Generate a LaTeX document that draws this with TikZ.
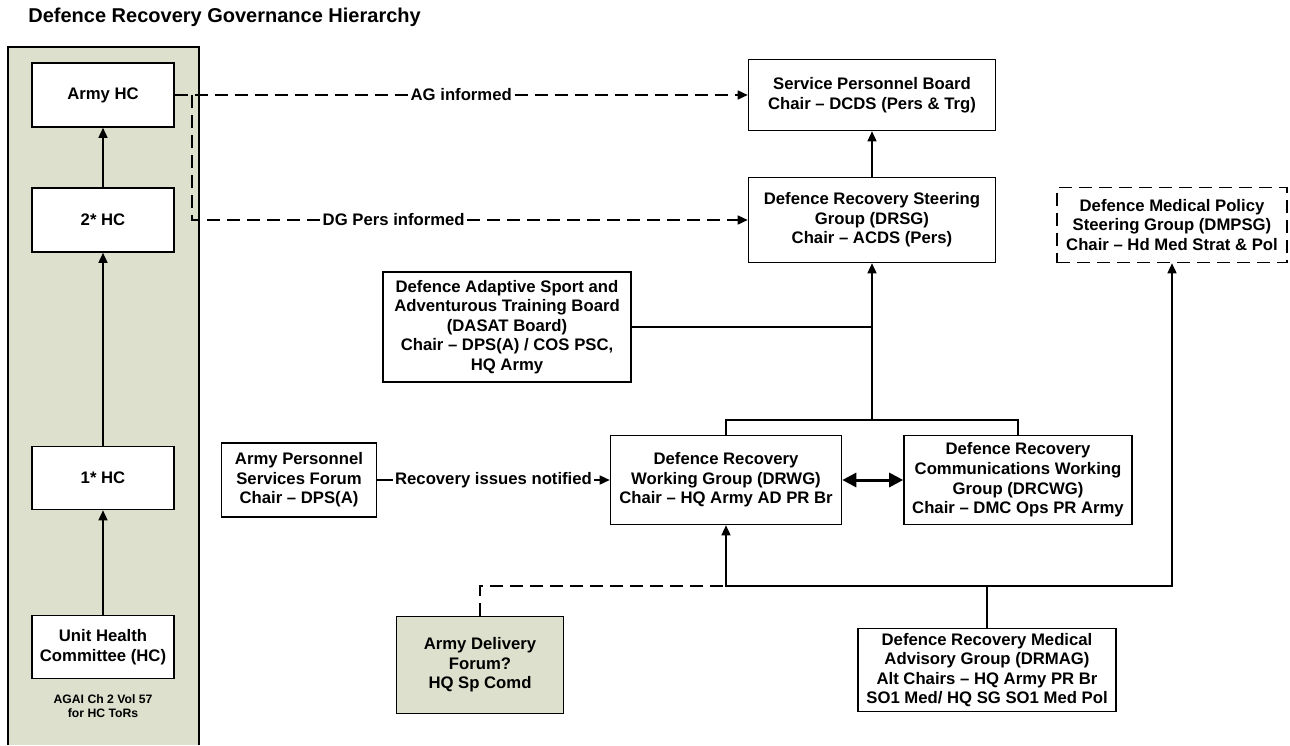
\documentclass[tikz,border=0pt]{standalone}
\usepackage{fontspec}
\setmainfont{Liberation Sans}
\usetikzlibrary{arrows.meta}
\definecolor{panelgreen}{RGB}{221,224,204}
\begin{document}
\begin{tikzpicture}[x=0.5pt,y=-0.5pt,
  every node/.style={font=\fontsize{8.35}{9.8}\selectfont\bfseries, align=center, inner sep=0pt},
  box/.style 2 args={draw, fill=white, line width=0.8pt, minimum width=#1*0.5pt, minimum height=#2*0.5pt},
  conn/.style={line width=0.75pt},
  arr/.style={conn, -{Triangle[length=5pt,width=4.5pt]}},
  dashline/.style={conn, dash pattern=on 6.5pt off 3.5pt},
  lbl/.style={fill=white, inner sep=1pt}
]
\useasboundingbox (0,0) rectangle (1290,745);
% left panel
\fill[panelgreen] (8,47) rectangle (199,745);
\draw[line width=0.8pt] (8,745) -- (8,47) -- (199,47) -- (199,745);
\node[font=\fontsize{10}{12}\selectfont\bfseries, anchor=west] (title) at (28,17) {Defence Recovery Governance Hierarchy};

\node[box={142}{64}] (armyhc) at (103,95) {Army HC};
\node[box={142}{64}] (hc2) at (103,220) {2* HC};
\node[box={142}{63}] (hc1) at (103,478) {1* HC};
\node[box={142}{63}] (uhc) at (103,647) {Unit Health\\Committee (HC)};
\node[font=\fontsize{6.1}{7}\selectfont\bfseries] (agai) at (103,706) {AGAI Ch 2 Vol 57\\for HC ToRs};

\node[box={247}{71}] (spb) at (872,95) {Service Personnel Board\\Chair – DCDS (Pers \& Trg)};
\node[box={247}{85}] (drsg) at (872,220) {Defence Recovery Steering\\Group (DRSG)\\Chair – ACDS (Pers)};
\node[box={230}{75}, dash pattern=on 6.5pt off 3.5pt] (dmpsg) at (1172,225) {Defence Medical Policy\\Steering Group (DMPSG)\\Chair – Hd Med Strat \& Pol};
\node[box={248}{110}] (dasat) at (507,327) {Defence Adaptive Sport and\\Adventurous Training Board\\(DASAT Board)\\Chair – DPS(A) / COS PSC,\\HQ Army};
\node[box={155}{74}] (apsf) at (299,480) {Army Personnel\\Services Forum\\Chair – DPS(A)};
\node[box={231}{89}] (drwg) at (726,480) {Defence Recovery\\Working Group (DRWG)\\Chair – HQ Army AD PR Br};
\node[box={228}{89}] (drcwg) at (1018,480) {Defence Recovery\\Communications Working\\Group (DRCWG)\\Chair – DMC Ops PR Army};
\node[box={167}{97}, fill=panelgreen] (adf) at (480,665) {Army Delivery\\Forum?\\HQ Sp Comd};
\node[box={258}{83}] (drmag) at (987,670) {Defence Recovery Medical\\Advisory Group (DRMAG)\\Alt Chairs – HQ Army PR Br\\SO1 Med/ HQ SG SO1 Med Pol};

% left column arrows
\draw[arr] (hc2) -- (armyhc);
\draw[arr] (hc1) -- (hc2);
\draw[arr] (uhc) -- (hc1);

% informed lines
\coordinate (split) at (192,95);
\coordinate (dgbend) at (192,220);
\draw[dashline, -{Triangle[length=5pt,width=4.5pt]}] (armyhc.east) -- node[lbl]{AG informed} (spb.west);
\draw[dashline, -{Triangle[length=5pt,width=4.5pt]}] (split) -- (dgbend) -- node[lbl, pos=0.363]{DG Pers informed} (drsg.west);

% upper tree
\draw[arr] (drsg) -- (spb);
\coordinate (j1) at (872,420);
\coordinate (j2) at (872,327);
\draw[arr] (j1) -- (drsg.south);
\draw[conn] (dasat.east) -- (j2);
\draw[conn] (drwg.north) |- (j1);
\draw[conn] (drcwg.north) |- (j1);

% middle row
\draw[arr] (apsf.east) -- node[lbl]{Recovery issues notified} (drwg.west);
\draw[line width=1.5pt, {Triangle[length=7pt,width=7pt]}-{Triangle[length=7pt,width=7pt]}] (drwg.east) -- (drcwg.west);

% bottom tree
\coordinate (j3) at (987,586);
\coordinate (j4) at (726,586);
\coordinate (j5) at (1172,586);
\coordinate (adfbend) at (480,586);
\draw[conn] (drmag.north) -- (j3);
\draw[arr] (j3) -- (j4) -- (drwg.south);
\draw[arr] (j3) -- (j5) -- (dmpsg.south);
\draw[dashline] (adf.north) -- (adfbend) -- (j4);
\end{tikzpicture}
\end{document}
